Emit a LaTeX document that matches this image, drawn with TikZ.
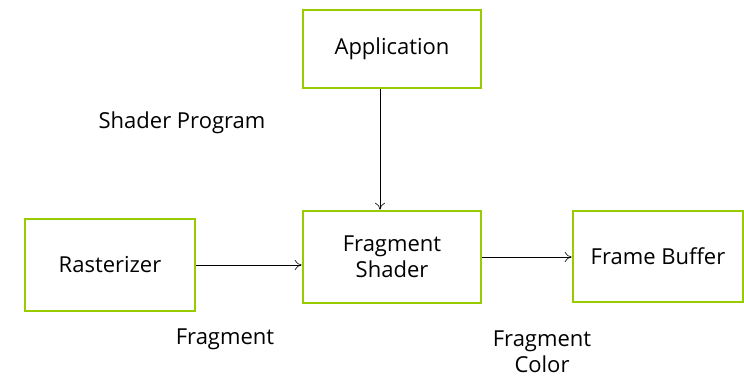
\documentclass[tikz,border=0pt]{standalone}
\usepackage{fontspec}
\setmainfont{Open Sans}
\usetikzlibrary{positioning, arrows.meta}
\definecolor{stagegreen}{RGB}{153,204,0}

\begin{document}
\begin{tikzpicture}[x=1pt,y=1pt,>={To[length=7pt,width=10pt]},semithick,
    font=\fontsize{22}{26}\selectfont]
  \tikzset{stage/.style={draw=stagegreen,line width=2.6pt,fill=white,
      align=center,inner sep=0pt}}
  \useasboundingbox (0,0) rectangle (744,377);

  \node[stage,minimum width=178,minimum height=78] (App)  at (392,328) {Application};
  \node[stage,minimum width=178,minimum height=92] (Frag) at (392,120) {Fragment\\Shader};
  \node[stage,minimum width=170,minimum height=92] (Rast) at (110,112) {Rasterizer};
  \node[stage,minimum width=170,minimum height=91] (FB)   at (658,120.5) {Frame Buffer};

  \node (ShProg)  at (182,254) {Shader Program};
  \node (FragLbl) at (225,38)  {Fragment};
  \node[align=center,inner sep=1pt] (ColLbl) at (542,25) {Fragment\\Color};

  \draw[->] ([xshift=-12pt]App.south) -- ([xshift=-12pt]App.south |- Frag.north);
  \draw[->] (Rast.east) -- (Rast.east -| Frag.west);
  \draw[->] (Frag.east) -- (Frag.east -| FB.west);
\end{tikzpicture}
\end{document}
